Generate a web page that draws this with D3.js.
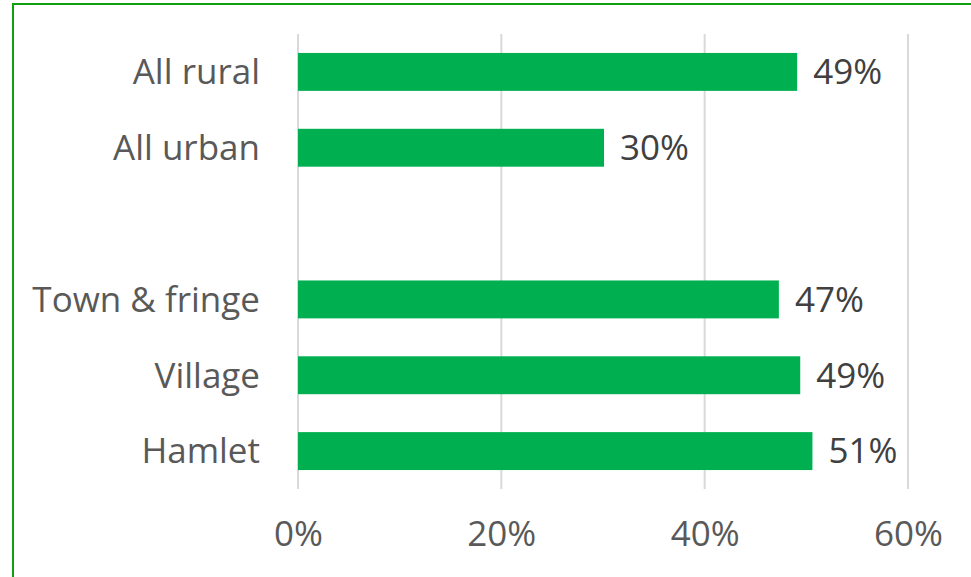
<!DOCTYPE html>
<html lang="en">
<head>
    <meta charset="UTF-8">
    <title>Rural and urban share</title>
    <script src="https://d3js.org/d3.v7.min.js"></script>
    <style>
        body, html {
            margin: 0;
            overflow: hidden;
            background-color: #ffffff;
        }
        text {
            font-family: "Open Sans", sans-serif;
        }
        .grid line {
            stroke: #d9d9d9;
            stroke-width: 2px;
        }
        .bar {
            fill: #00b050;
        }
    </style>
</head>
<body>
    <script>
        // categories (blank slot separates the two groups)
        const categories = ["All rural", "All urban", "", "Town & fringe", "Village", "Hamlet"];
        const values = [49.1, 30.1, null, 47.3, 49.4, 50.6];
        const ticks = [0, 20, 40, 60];

        const width = 971, height = 577;
        const margin = {top: 34, right: 63, bottom: 88, left: 298};

        const svg = d3.select("body").append("svg")
            .attr("width", width)
            .attr("height", height);

        // green frame round the chart area
        svg.append("rect")
            .attr("x", 13).attr("y", 4)
            .attr("width", width).attr("height", height)
            .attr("fill", "none")
            .attr("stroke", "#0ea00e")
            .attr("stroke-width", 2);

        const x = d3.scaleLinear()
            .domain([0, 60])
            .range([margin.left, width - margin.right]);

        const y = d3.scaleBand()
            .domain(categories.map((d, i) => i))
            .range([margin.top, height - margin.bottom])
            .paddingInner(0.5)
            .paddingOuter(0.25);

        // vertical gridlines
        svg.append("g")
            .attr("class", "grid")
            .selectAll("line")
            .data(ticks)
            .enter().append("line")
            .attr("x1", d => x(d)).attr("x2", d => x(d))
            .attr("y1", margin.top).attr("y2", height - margin.bottom);

        // x axis tick labels
        const xAxis = svg.append("g")
            .attr("transform", `translate(0,${height - margin.bottom + 21})`)
            .call(d3.axisBottom(x).tickValues(ticks).tickSize(0).tickFormat(d => d + "%"));
        xAxis.select(".domain").remove();
        xAxis.selectAll("text")
            .attr("dy", "0.95em")
            .style("font-size", "35px")
            .style("fill", "#595959");

        // category labels
        const yAxis = svg.append("g")
            .attr("transform", `translate(${margin.left - 38},0)`)
            .call(d3.axisLeft(y).tickSize(0).tickFormat(i => categories[i]));
        yAxis.select(".domain").remove();
        yAxis.selectAll("text")
            .attr("x", 0)
            .attr("dy", "0.35em")
            .style("font-size", "35px")
            .style("fill", "#595959");

        const rows = values.map((v, i) => ({i, v})).filter(d => d.v !== null);

        svg.selectAll(".bar")
            .data(rows)
            .enter().append("rect")
            .attr("class", "bar")
            .attr("x", x(0))
            .attr("y", d => y(d.i))
            .attr("width", d => x(d.v) - x(0))
            .attr("height", y.bandwidth());

        // value labels
        svg.selectAll(".val")
            .data(rows)
            .enter().append("text")
            .attr("class", "val")
            .attr("x", d => x(d.v) + 16)
            .attr("y", d => y(d.i) + y.bandwidth() / 2)
            .attr("dy", "0.35em")
            .style("font-size", "35px")
            .style("fill", "#404040")
            .text(d => d3.format(".0f")(d.v) + "%");
    </script>
</body>
</html>
